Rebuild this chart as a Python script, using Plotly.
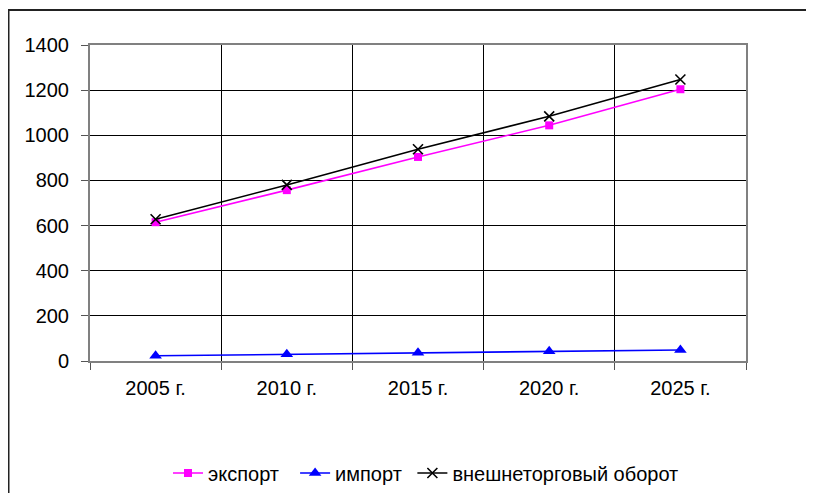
import plotly.graph_objects as go

NB = "\u00a0"
years = ["2005 г.", "2010 г.", "2015 г.", "2020 г.", "2025 г."]
series_names = ["экспорт", "импорт", "внешнеторговый оборот"]
export = [615, 757, 904, 1044, 1204]
imports = [23, 30, 36, 43, 49]
turnover = [628, 780, 938, 1084, 1247]
y_ticks = [0, 200, 400, 600, 800, 1000, 1200, 1400]

# page offset from default body margin
OFF = 8
W, H = 814, 493
L, T = 90 - OFF, 45 - OFF
pw, ph = 656, 316
R = W - L - pw
B = H - T - ph

def px_x(x):  # page px -> paper fraction
    return (x - OFF - L) / pw

def px_y(y):
    return (T + ph - (y - OFF)) / ph

fig = go.Figure()
fig.add_trace(go.Scatter(x=years, y=export, name=series_names[0] + NB * 2, mode="lines+markers",
                         line=dict(color="#ff00ff", width=1.6),
                         marker=dict(symbol="square", size=8, color="#ff00ff")))
fig.add_trace(go.Scatter(x=years, y=imports, name=series_names[1] + NB, mode="lines+markers",
                         line=dict(color="#0000ff", width=1.6),
                         marker=dict(symbol="triangle-up", size=11, color="#0000ff")))
fig.add_trace(go.Scatter(x=years, y=turnover, name=series_names[2], mode="lines+markers",
                         line=dict(color="#000000", width=1.6),
                         marker=dict(symbol="x-thin", size=10, line=dict(color="#000000", width=1.6))))

fig.update_layout(
    width=W, height=H,
    margin=dict(l=L, r=R, t=T, b=B, autoexpand=False),
    paper_bgcolor="white", plot_bgcolor="white",
    font=dict(family="Liberation Sans, Arial, sans-serif", size=20, color="black"),
    showlegend=True,
    legend=dict(orientation="h", x=px_x(426), xanchor="center", y=px_y(473), yanchor="middle",
                font=dict(size=20), tracegroupgap=0, itemwidth=30),
    xaxis=dict(type="category", range=[-0.5, 4.5], tickson="boundaries",
               showgrid=True, gridcolor="black", gridwidth=1,
               ticks="outside", ticklen=7, tickcolor="#555", tickwidth=1,
               showline=True, linecolor="#808080", linewidth=2, mirror=True,
               ticklabelstandoff=8, fixedrange=True),
    yaxis=dict(range=[0, 1400], tickvals=y_ticks, ticktext=[str(v) for v in y_ticks],
               showgrid=True, gridcolor="black", gridwidth=1, zeroline=False,
               ticks="outside", ticklen=7, tickcolor="#555", tickwidth=1,
               showline=True, linecolor="#808080", linewidth=2, mirror=True,
               ticklabelstandoff=8, fixedrange=True),
)

# outer chart frame (extends beyond the visible page on right and bottom)
fig.add_shape(type="rect", xref="paper", yref="paper",
              x0=px_x(8.5), x1=px_x(900), y0=px_y(600), y1=px_y(10),
              line=dict(color="#222", width=2), fillcolor="rgba(0,0,0,0)", layer="above")

fig.write_html("out.html")
